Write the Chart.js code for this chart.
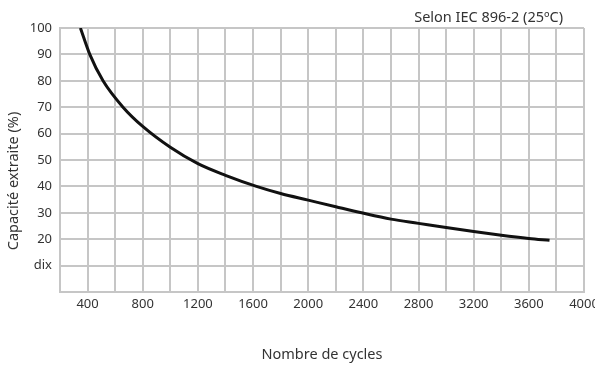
<!DOCTYPE html>
<html>
<head>
<meta charset="utf-8">
<script src="https://cdn.jsdelivr.net/npm/chart.js@4/dist/chart.umd.min.js"></script>
<style>
  html, body { margin: 0; padding: 0; background: #fff; }
  #wrap { width: 595px; height: 367px; position: relative; }
</style>
</head>
<body>
<div id="wrap"><canvas id="cycleChart"></canvas></div>
<script>
// cycles (mostly where it crosses the grid)
const cycles = [348, 416, 512, 657, 800, 1000, 1200, 1400, 1625, 1800, 2000, 2200, 2387, 2600, 2800, 3000, 3200, 3400, 3600, 3750];
const capacity = [100, 90, 80, 70, 62.7, 54.8, 48.6, 44.2, 40, 37.3, 34.8, 32.3, 30, 27.6, 26, 24.4, 22.9, 21.5, 20.3, 19.6];

const xTickLabels = ['400', '800', '1200', '1600', '2000', '2400', '2800', '3200', '3600', '4000'];
const yTickLabels = ['', 'dix', '20', '30', '40', '50', '60', '70', '80', '90', '100'];

const noteText = 'Selon IEC 896-2 (25ºC)';
const yTitle = 'Capacité extraite (%)';
const gridColor = '#c6c6c6';
const textColor = '#333';

// header note top right + y axis title (sits a bit below the middle)
const textPlugin = {
    id: 'extraText',
    afterDraw(chart) {
        const ctx = chart.ctx;
        ctx.save();
        ctx.font = '14.5px "Noto Sans"';
        ctx.fillStyle = textColor;
        ctx.textAlign = 'right';
        ctx.textBaseline = 'middle';
        ctx.fillText(noteText, chart.chartArea.right - 21, 18);

        ctx.translate(14, 181);
        ctx.rotate(-Math.PI / 2);
        ctx.textAlign = 'center';
        ctx.fillText(yTitle, 0, 0);
        ctx.restore();
    }
};

const points = cycles.map((c, i) => ({ x: c, y: capacity[i] }));

new Chart(document.getElementById('cycleChart').getContext('2d'), {
    type: 'line',
    data: {
        datasets: [{
            data: points,
            borderColor: '#111',
            borderWidth: 3,
            pointRadius: 0,
            fill: false,
            cubicInterpolationMode: 'monotone'
        }]
    },
    options: {
        responsive: true,
        maintainAspectRatio: false,
        animation: false,
        layout: { padding: { top: 28, right: 11, left: 0, bottom: 0 } },
        plugins: {
            legend: { display: false },
            tooltip: { enabled: false }
        },
        scales: {
            x: {
                type: 'linear',
                min: 200,
                max: 4000,
                afterFit(scale) {
                    scale.height = 75;
                    scale.paddingRight = 0;
                    scale.paddingLeft = 0;
                },
                ticks: {
                    stepSize: 200,
                    padding: 4,
                    maxRotation: 0,
                    autoSkip: false,
                    color: textColor,
                    font: { family: 'Noto Sans', size: 13 },
                    callback: function(v) {
                        if (v % 400 !== 0) return '';
                        return xTickLabels[v / 400 - 1];
                    }
                },
                grid: { color: gridColor, lineWidth: 2, drawTicks: false },
                border: { color: gridColor, width: 2 },
                title: {
                    display: true,
                    text: 'Nombre de cycles',
                    color: textColor,
                    font: { family: 'Noto Sans', size: 14.5 },
                    padding: { top: 0, bottom: 3 }
                }
            },
            y: {
                min: 0,
                max: 100,
                afterFit(scale) {
                    scale.width = 60;
                    scale.paddingTop = 0;
                },
                ticks: {
                    stepSize: 10,
                    padding: 8,
                    color: textColor,
                    font: { family: 'Noto Sans', size: 13 },
                    callback: function(v) { return yTickLabels[v / 10]; }
                },
                grid: { color: gridColor, lineWidth: 2, drawTicks: false },
                border: { color: gridColor, width: 2 }
            }
        }
    },
    plugins: [textPlugin]
});
</script>
</body>
</html>
